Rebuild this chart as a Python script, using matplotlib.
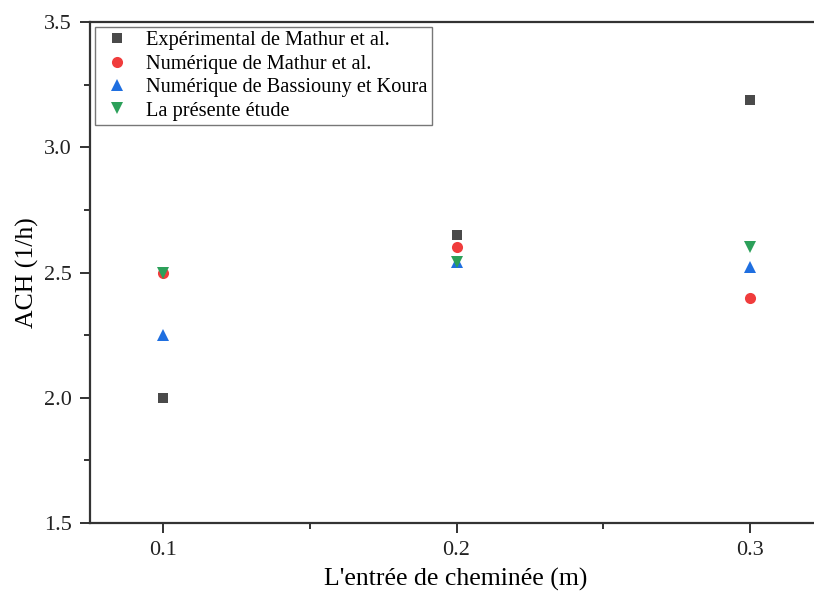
"""ACH vs chimney inlet width: comparison with Mathur et al. and Bassiouny & Koura."""

import matplotlib.pyplot as plt
from matplotlib.ticker import MultipleLocator

plt.rcParams["font.family"] = ["Liberation Serif", "DejaVu Serif"]

entree = [0.1, 0.2, 0.3]
exp_mathur = [2.0, 2.65, 3.19]
num_mathur = [2.50, 2.60, 2.40]
num_bassiouny = [2.25, 2.54, 2.52]
presente = [2.50, 2.54, 2.60]

series = [
    ("Expérimental de Mathur et al.", exp_mathur, "s", "#4a4a4a", 7),
    ("Numérique de Mathur et al.", num_mathur, "o", "#f03c3c", 8),
    ("Numérique de Bassiouny et Koura", num_bassiouny, "^", "#1f6fe0", 9),
    ("La présente étude", presente, "v", "#2ca05a", 9),
]

fig = plt.figure(figsize=(8.14, 5.97), dpi=100)
ax = fig.add_axes([90 / 814, 74 / 597, 1 - 90 / 814 + 0.01, 501 / 597])

for label, vals, marker, color, size in series:
    ax.plot(entree, vals, linestyle="none", marker=marker, color=color,
            markersize=size, markeredgewidth=0, label=label)

ax.set_xlim(0.0752, 0.3245)
ax.set_ylim(1.5, 3.5)
ax.xaxis.set_major_locator(MultipleLocator(0.1))
ax.xaxis.set_minor_locator(MultipleLocator(0.05))
ax.yaxis.set_major_locator(MultipleLocator(0.5))
ax.yaxis.set_minor_locator(MultipleLocator(0.25))
ax.xaxis.set_major_formatter(plt.FuncFormatter(lambda v, _: f"{v:.1f}"))
ax.yaxis.set_major_formatter(plt.FuncFormatter(lambda v, _: f"{v:.1f}"))
ax.tick_params(which="both", direction="out", width=1.3, labelsize=16, colors="#222222")
ax.tick_params(which="major", length=7, pad=6)
ax.tick_params(which="minor", length=4)
for side in ("left", "bottom", "top"):
    ax.spines[side].set_linewidth(1.6)
    ax.spines[side].set_color("#333333")
ax.spines["right"].set_visible(False)

ax.set_xlabel("L'entrée de cheminée (m)", fontsize=18.5, labelpad=6)
ax.set_ylabel("ACH (1/h)", fontsize=18.5, labelpad=4)

leg = ax.legend(loc="upper left", bbox_to_anchor=(0.0, 1.0), fontsize=14.7,
                frameon=True, fancybox=False, edgecolor="#555555",
                handletextpad=0.6, labelspacing=0.2, borderpad=0.2,
                handlelength=1.7, borderaxespad=0.25)
leg.get_frame().set_linewidth(1.0)

fig.savefig("out.png", dpi=100)
